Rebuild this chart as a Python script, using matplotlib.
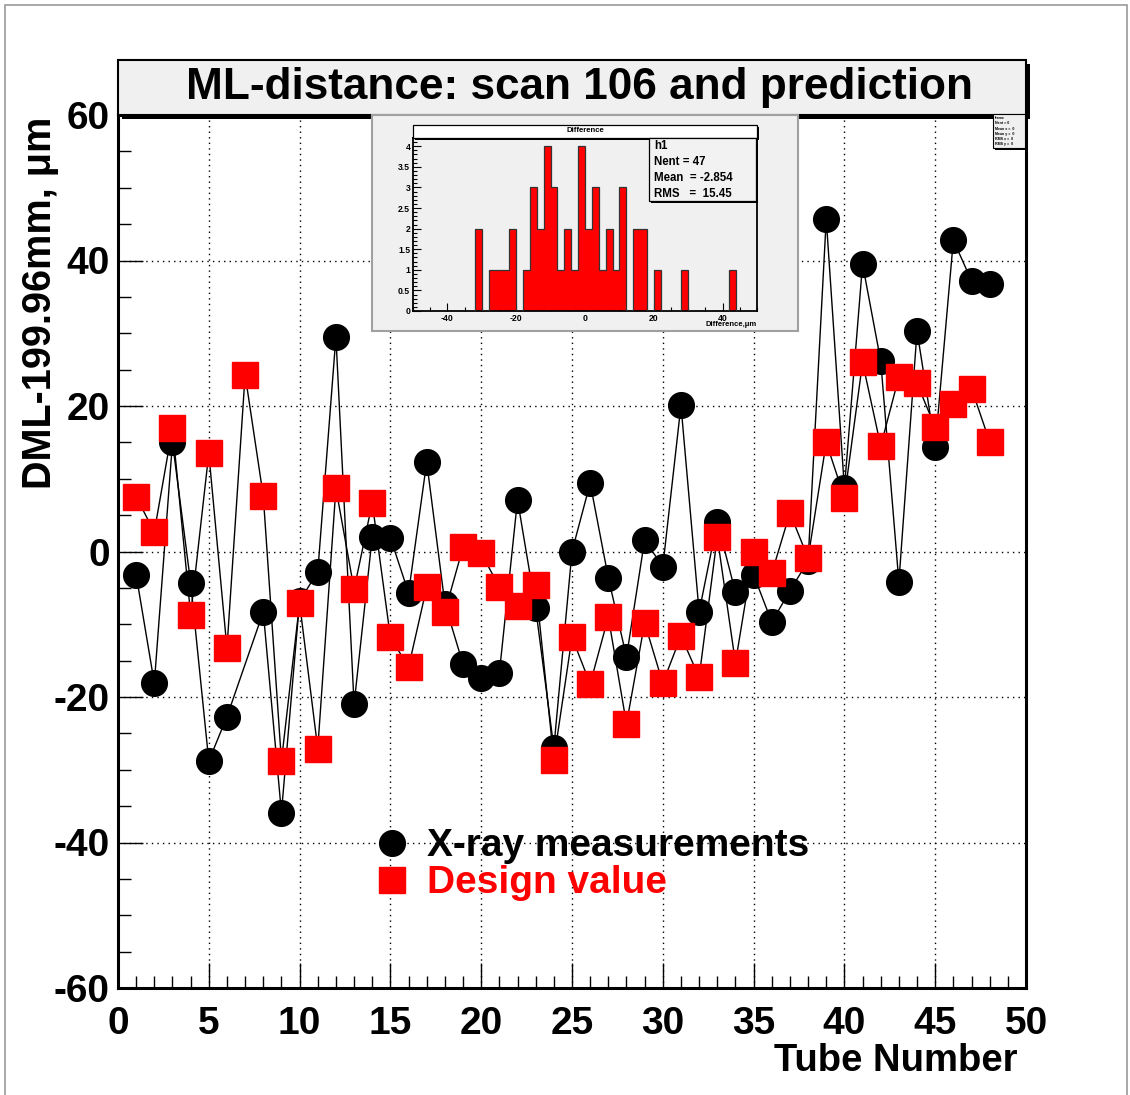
import numpy as np
import matplotlib
matplotlib.use("Agg")
import matplotlib.pyplot as plt
from matplotlib.patches import Rectangle
from matplotlib.lines import Line2D
from matplotlib.ticker import MultipleLocator, FuncFormatter

plt.rcParams['font.family'] = ['Liberation Sans', 'DejaVu Sans']
plt.rcParams['font.weight'] = 'bold'
plt.rcParams['axes.unicode_minus'] = False

# X-ray measurements (tube 7 has no measurement)
xray_tubes = [1, 2, 3, 4, 5, 6, 8, 9, 10, 11, 12, 13, 14, 15, 16, 17, 18, 19, 20,
              21, 22, 23, 24, 25, 26, 27, 28, 29, 30, 31, 32, 33, 34, 35, 36, 37,
              38, 39, 40, 41, 42, 43, 44, 45, 46, 47, 48]
xray_vals = [-3.2, -18.1, 15.0, -4.3, -28.8, -22.7, -8.3, -35.9, -6.8, -2.8,
             29.5, -21.0, 2.0, 1.9, -5.7, 12.3, -7.2, -15.5, -17.4, -16.7,
             7.1, -7.8, -27.0, 0.0, 9.4, -3.6, -14.5, 1.6, -2.1, 20.1,
             -8.3, 4.1, -5.6, -3.2, -9.7, -5.4, -1.3, 45.7, 8.7, 39.5,
             26.2, -4.2, 30.3, 14.4, 42.8, 37.2, 36.8]

# design values, tubes 1..48
design_tubes = list(range(1, 49))
design_vals = [7.5, 2.7, 17.0, -8.7, 13.5, -13.3, 24.3, 7.6, -28.8, -7.1,
               -27.1, 8.7, -5.2, 6.7, -11.8, -15.9, -4.9, -8.3, 0.6, -0.2,
               -4.9, -7.5, -4.6, -28.6, -11.8, -18.2, -9.0, -23.7, -9.8, -18.1,
               -11.6, -17.3, 2.0, -15.3, -0.1, -3.0, 5.3, -0.9, 15.0, 7.4,
               26.0, 14.5, 24.0, 23.1, 17.1, 20.3, 22.4, 15.1]

# inset histogram: bins of width 2 from -50 to 50
diff_edges = np.arange(-50, 52, 2)
diff_counts = [0, 0, 0, 0, 0, 0, 0, 0, 0, 2,
               0, 1, 1, 1, 2, 0, 1, 3, 2, 4,
               3, 1, 2, 1, 4, 2, 3, 1, 2, 1,
               3, 0, 2, 2, 0, 1, 0, 0, 0, 1,
               0, 0, 0, 0, 0, 0, 1, 0, 0, 0]
stats_lines = ["h1", "Nent = 47", "Mean  = -2.854", "RMS   =  15.45"]

W, H = 1130, 1095


def fx(px):
    return px / W


def fy(py):
    return 1 - py / H


def box(fig, x0, y0, x1, y1, face, edge='k', lw=1.2, shadow=0, z=2):
    """rectangle in pixel coords, with optional ROOT-like shadow"""
    if shadow:
        fig.patches.append(Rectangle((fx(x0 + shadow), fy(y1 + shadow)),
                                     fx(x1 - x0), (y1 - y0) / H,
                                     transform=fig.transFigure, facecolor='k',
                                     edgecolor='k', lw=0, zorder=z))
    fig.patches.append(Rectangle((fx(x0), fy(y1)), fx(x1 - x0), (y1 - y0) / H,
                                 transform=fig.transFigure, facecolor=face,
                                 edgecolor=edge, lw=lw, zorder=z))


fig = plt.figure(figsize=(W / 100, H / 100), dpi=100)

# outer canvas frame
fig.patches.append(Rectangle((fx(5), fy(1100)), fx(1122), 1095 / H,
                             transform=fig.transFigure, facecolor='none',
                             edgecolor='#999999', lw=1.2, zorder=0))

ax = fig.add_axes([fx(118), fy(988), fx(1026 - 118), (988 - 115) / H])
ax.plot(xray_tubes, xray_vals, color='k', lw=1.0, marker='o', ms=18.5,
        mfc='k', mec='k', zorder=3)
ax.plot(design_tubes, design_vals, color='k', lw=1.0, marker='s', ms=18.5,
        mfc='red', mec='red', zorder=4)

ax.set_xlim(0, 50)
ax.set_ylim(-60, 60)
ax.xaxis.set_major_locator(MultipleLocator(5))
ax.xaxis.set_minor_locator(MultipleLocator(1))
ax.yaxis.set_major_locator(MultipleLocator(20))
ax.yaxis.set_minor_locator(MultipleLocator(5))
ax.grid(True, which='major', color='k', ls=(0, (1, 3)), lw=1.0)
ax.tick_params(which='both', direction='in', top=False, right=False, width=1)
ax.tick_params(which='major', length=18, labelsize=28)
ax.tick_params(which='minor', length=9)
ax.tick_params(axis='x', pad=13)
ax.tick_params(axis='y', pad=6)
for sp in ax.spines.values():
    sp.set_linewidth(2.2)

handles = [Line2D([], [], ls='none', marker='o', ms=18.5, color='k'),
           Line2D([], [], ls='none', marker='s', ms=18.5, color='red')]
ax.legend(handles, ["X-ray measurements", "Design value"], loc='upper left',
          bbox_to_anchor=(0.280, 0.183), frameon=False, borderpad=0,
          borderaxespad=0, handlelength=1.0, handletextpad=0.42,
          labelspacing=0.03, labelcolor=['k', 'red'],
          prop={'size': 28, 'weight': 'bold'})

fig.text(fx(40), fy(303), "DML-199.96mm, \u03bcm", rotation=90, ha='center',
         va='center', fontsize=28.5, fontweight='bold')
fig.text(fx(1018), fy(1061), "Tube Number", ha='right', va='center',
         fontsize=27.5, fontweight='bold')

# title box
box(fig, 118, 60, 1026, 115, '#f0f0f0', lw=1.5, shadow=4, z=2)
fig.text(fx(579), fy(88), "ML-distance: scan 106 and prediction", ha='center',
         va='center', fontsize=31.8, fontweight='bold', zorder=5)

# empty stats box at top right
box(fig, 993, 114, 1025, 148, '#f0f0f0', lw=0.8, shadow=2, z=2)
for i, t in enumerate(["frame", "Nent = 0", "Mean x =  0", "Mean y =  0",
                       "RMS x =  0", "RMS y =  0"]):
    fig.text(fx(995), fy(118 + i * 5.3), t, fontsize=2.6, va='center',
             ha='left', zorder=5)

# inset panel
box(fig, 372, 115, 798, 331, '#f0f0f0', edge='#a0a0a0', lw=1.5, z=2)
ins = fig.add_axes([fx(413), fy(311), fx(757 - 413), (311 - 138) / H],
                   facecolor='#f0f0f0', zorder=3)
ins.stairs(diff_counts, diff_edges, fill=True, color='red', zorder=2)
ins.stairs(diff_counts, diff_edges, color='#333333', lw=0.9, baseline=0,
           zorder=3)
ins.set_xlim(-50, 50)
ins.set_ylim(0, 4.2)
ins.xaxis.set_major_locator(MultipleLocator(20))
ins.xaxis.set_minor_locator(MultipleLocator(5))
ins.yaxis.set_major_locator(MultipleLocator(0.5))
ins.yaxis.set_minor_locator(MultipleLocator(0.1))
ins.yaxis.set_major_formatter(FuncFormatter(lambda v, p: f"{v:g}"))
ins.tick_params(which='both', direction='in', top=False, right=False,
                width=0.8, labelsize=6.2, pad=2)
ins.tick_params(which='major', length=6)
ins.tick_params(which='minor', length=3)
for sp in ins.spines.values():
    sp.set_linewidth(1.3)

fig.text(fx(757), fy(325), "Difference,\u03bcm", ha='right', va='center',
         fontsize=5.5, fontweight='bold', zorder=6)

box(fig, 413, 125, 757, 138, 'white', lw=0.9, shadow=2, z=4)
fig.text(fx(585), fy(131), "Difference", ha='center', va='center',
         fontsize=5.6, fontweight='bold', zorder=6)

box(fig, 649, 138, 756, 201, '#f2f2f2', lw=0.9, shadow=2, z=4)
for i, t in enumerate(stats_lines):
    fig.text(fx(654), fy(146 + i * 16), t, ha='left', va='center',
             fontsize=8.3, fontweight='bold', zorder=6)

fig.savefig("out.png", dpi=100)
